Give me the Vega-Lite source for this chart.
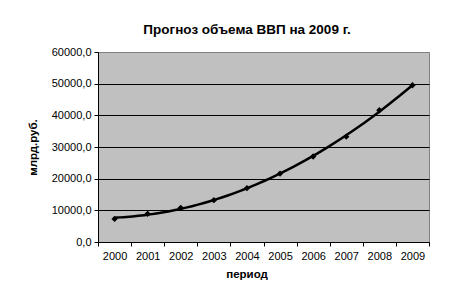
{
  "$schema": "https://vega.github.io/schema/vega-lite/v6.json",
  "width": 331,
  "height": 190,
  "autosize": "none",
  "padding": {"left": 98, "top": 52, "right": 41, "bottom": 56},
  "background": "white",
  "config": {
    "font": "Liberation Sans",
    "locale": {"number": {"decimal": ",", "thousands": " ", "grouping": [3], "currency": ["", ""]}},
    "view": {"fill": "#C0C0C0", "stroke": "#808080", "strokeWidth": 1},
    "axis": {
      "domainColor": "black",
      "tickColor": "black",
      "labelColor": "black",
      "titleColor": "black",
      "labelFontSize": 11,
      "titleFontSize": 11.5,
      "labelFont": "Liberation Sans",
      "titleFont": "Liberation Sans",
      "titleFontWeight": "bold",
      "tickSize": 4
    }
  },
  "title": {
    "text": "Прогноз объема ВВП на 2009 г.",
    "fontSize": 13.5,
    "fontWeight": "bold",
    "font": "Liberation Sans",
    "color": "black",
    "frame": "group",
    "dx": -16.5,
    "dy": 18,
    "offset": 17,
    "baseline": "alphabetic"
  },
  "data": {
    "values": [
      {"year": 2000, "value": 7300},
      {"year": 2001, "value": 8900},
      {"year": 2002, "value": 10800},
      {"year": 2003, "value": 13200},
      {"year": 2004, "value": 17000},
      {"year": 2005, "value": 21600},
      {"year": 2006, "value": 27000},
      {"year": 2007, "value": 33250},
      {"year": 2008, "value": 41600},
      {"year": 2009, "value": 49500}
    ]
  },
  "encoding": {
    "x": {
      "field": "year",
      "type": "quantitative",
      "scale": {"domain": [1999.5, 2009.5], "nice": false, "zero": false},
      "axis": {
        "values": [1999.5, 2000.5, 2001.5, 2002.5, 2003.5, 2004.5, 2005.5, 2006.5, 2007.5, 2008.5, 2009.5],
        "labelExpr": "datum.value > 2009 ? '' : format(datum.value + 0.5, 'd')",
        "labelOffset": 16.55,
        "labelFlush": false,
        "labelOverlap": false,
        "grid": false,
        "title": "период",
        "titleX": 148.5,
        "labelPadding": 4,
        "titlePadding": 7
      }
    },
    "y": {
      "field": "value",
      "type": "quantitative",
      "scale": {"domain": [0, 60000], "nice": false},
      "axis": {
        "values": [0, 10000, 20000, 30000, 40000, 50000, 60000],
        "format": ".1f",
        "title": "млрд.руб.",
        "labelFlush": false,
        "labelOverlap": false,
        "gridColor": {"condition": {"test": "datum.value >= 60000", "value": "#808080"}, "value": "black"},
        "gridOpacity": 1,
        "labelPadding": 3,
        "titlePadding": 13
      }
    }
  },
  "layer": [
    {
      "transform": [{"regression": "value", "on": "year", "method": "poly", "order": 2, "extent": [2000, 2009]}],
      "mark": {"type": "line", "color": "black", "strokeWidth": 2.5}
    },
    {
      "mark": {"type": "point", "shape": "diamond", "filled": true, "color": "black", "size": 40, "opacity": 1}
    }
  ]
}
